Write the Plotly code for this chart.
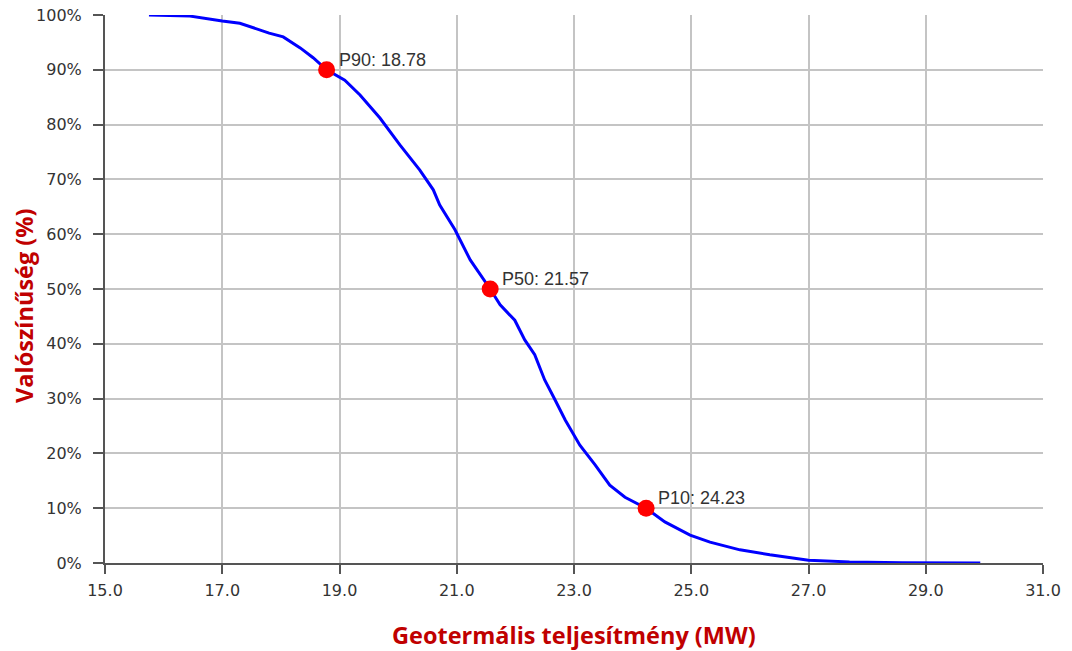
import plotly.graph_objects as go

# Curve data (MW, probability %)
power = [15.75, 16.45, 17.0, 17.3, 17.8, 18.04, 18.33, 18.55, 18.78, 19.09, 19.35, 19.69,
         20.03, 20.37, 20.6, 20.71, 20.97, 21.23, 21.57, 21.74, 21.99, 22.16, 22.33, 22.5,
         22.68, 22.85, 23.1, 23.36, 23.61, 23.87, 24.23, 24.55, 24.98, 25.32, 25.83, 26.34,
         27.0, 27.7, 28.6, 29.93]
prob = [100.0, 99.8, 98.9, 98.5, 96.7, 96.0, 94.0, 92.2, 90.0, 88.1, 85.4, 81.2,
        76.3, 71.7, 68.1, 65.3, 60.8, 55.3, 50.0, 47.1, 44.3, 40.7, 38.0, 33.4,
        29.7, 26.1, 21.5, 17.9, 14.2, 12.0, 10.0, 7.5, 5.1, 3.8, 2.4, 1.5,
        0.5, 0.2, 0.05, 0.0]

p_labels = ["P90", "P50", "P10"]
p_values = [18.78, 21.57, 24.23]
p_probs = [90, 50, 10]

x_ticks = [15, 17, 19, 21, 23, 25, 27, 29, 31]
y_ticks = [0, 10, 20, 30, 40, 50, 60, 70, 80, 90, 100]

x_title = "Geotermális teljesítmény (MW)"
y_title = "Valószínűség (%)"

fig = go.Figure()
fig.add_trace(go.Scatter(x=power, y=prob, mode="lines",
                         line=dict(color="#0000FF", width=3), hoverinfo="skip"))
fig.add_trace(go.Scatter(x=p_values, y=p_probs, mode="markers",
                         marker=dict(color="#FF0000", size=17, line=dict(width=0))))

for lab, v, p in zip(p_labels, p_values, p_probs):
    fig.add_annotation(x=v, y=p, text=f"{lab}: {v:.2f}", showarrow=False,
                       xanchor="left", yanchor="middle", xshift=10, yshift=10,
                       font=dict(family="Liberation Sans, Arial", size=18, color="#333333"))

title_font = dict(family="Open Sans", size=23.5, color="#C00000")
fig.add_annotation(xref="paper", yref="paper", x=0.5, y=0, yshift=-72,
                   xanchor="center", yanchor="middle", showarrow=False, borderpad=0,
                   text=f"<b>{x_title}</b>", font=title_font)
fig.add_annotation(xref="paper", yref="paper", x=0, y=0.469, xshift=-81,
                   xanchor="center", yanchor="middle", showarrow=False, textangle=-90,
                   borderpad=0,
                   text=f"<b>{y_title}</b>", font=title_font)

fig.update_layout(
    width=1064, height=643,
    margin=dict(l=97, r=29, t=7, b=88, autoexpand=False),
    paper_bgcolor="white", plot_bgcolor="white",
    showlegend=False,
    font=dict(family="DejaVu Sans", size=16, color="#333333"),
)
fig.update_xaxes(range=[15, 31], tickvals=x_ticks, ticktext=[f"{t:.1f}" for t in x_ticks],
                 showgrid=True, gridcolor="#C4C4C4", gridwidth=1.5,
                 showline=True, linecolor="#555555", linewidth=2,
                 ticks="outside", ticklen=9, tickwidth=2, tickcolor="#555555",
                 ticklabelstandoff=3, ticklabeloverflow="allow", automargin=False,
                 zeroline=False)
fig.update_yaxes(range=[0, 100], tickvals=y_ticks, ticktext=[f"{t}%" for t in y_ticks],
                 showgrid=True, gridcolor="#C4C4C4", gridwidth=1.5,
                 showline=True, linecolor="#555555", linewidth=2,
                 ticks="outside", ticklen=10, tickwidth=2, tickcolor="#555555",
                 ticklabelstandoff=8, ticklabeloverflow="allow", automargin=False,
                 zeroline=False)

fig.write_html("out.html")
